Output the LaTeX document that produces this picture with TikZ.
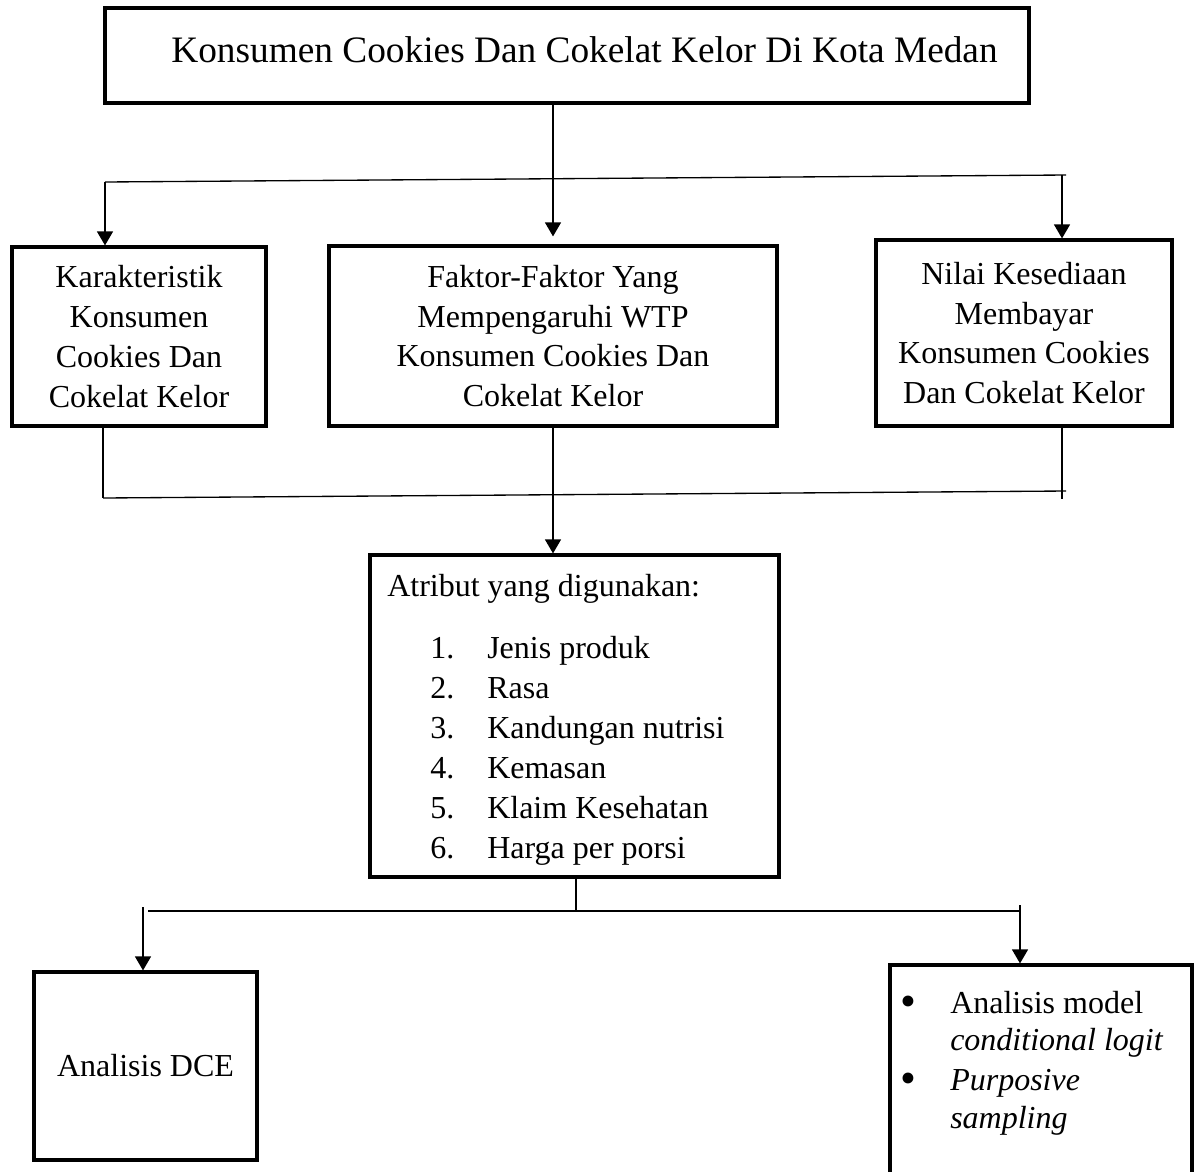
\documentclass[tikz,border=0pt]{standalone}
\usepackage{fontspec}
\setmainfont{Liberation Serif}
\usetikzlibrary{arrows.meta}
\tikzset{
  bx/.style={draw, line width=2.4pt, inner sep=0pt, align=center,
             font=\fontsize{24pt}{29.8pt}\selectfont},
  ln/.style={line width=1pt},
  arr/.style={line width=1pt, -{Triangle[length=10.5pt,width=12pt]}},
  txt/.style={inner sep=0pt, anchor=base west, font=\fontsize{24pt}{29.8pt}\selectfont},
  blt/.style={inner sep=0pt, anchor=base, font=\fontsize{34pt}{34pt}\selectfont},
}
\begin{document}
\begin{tikzpicture}[x=0.75pt,y=-0.75pt]
\useasboundingbox (0,0) rectangle (1194,1171);
\clip (0,0) rectangle (1194,1171);
% boxes
\node[bx, minimum width={924*0.75pt}, minimum height={95*0.75pt}] (top) at (567,55.5) {};
\node[inner sep=0pt, font=\fontsize{28pt}{34pt}\selectfont] (title) at (584.5,50)
      {Konsumen Cookies Dan Cokelat Kelor Di Kota Medan};
\node[bx, minimum width={254*0.75pt}, minimum height={179*0.75pt}] (left) at (139,336.5)
      {Karakteristik\\Konsumen\\Cookies Dan\\Cokelat Kelor};
\node[bx, minimum width={448*0.75pt}, minimum height={180*0.75pt}] (mid) at (553,336)
      {Faktor-Faktor Yang\\Mempengaruhi WTP\\Konsumen Cookies Dan\\Cokelat Kelor};
\node[bx, minimum width={296*0.75pt}, minimum height={186*0.75pt}] (right) at (1024,333)
      {Nilai Kesediaan\\Membayar\\Konsumen Cookies\\Dan Cokelat Kelor};
\node[bx, minimum width={409*0.75pt}, minimum height={322*0.75pt}] (attr) at (574.5,716) {};
\node[bx, minimum width={223*0.75pt}, minimum height={188*0.75pt}] (dce) at (145.5,1066)
      {Analisis DCE};
\node[bx, minimum width={302*0.75pt}, minimum height={240*0.75pt}] (clogit) at (1041,1085) {};
% attribute text
\node[txt] (ah) at (387,596) {Atribut yang digunakan:};
\foreach \i/\t [count=\k from 0] in {1/Jenis produk,2/Rasa,3/Kandungan nutrisi,4/Kemasan,5/Klaim Kesehatan,6/Harga per porsi}{
  \node[txt] (n\i) at (430,658+40*\k) {\i.};
  \node[txt] (a\i) at (487,658+40*\k) {\t};
}
% bullet text
\node[txt] (c1) at (950,1013) {Analisis model};
\node[txt] (c2) at (950,1050) {\itshape conditional logit};
\node[txt] (c3) at (950,1090) {\itshape Purposive};
\node[txt] (c4) at (950,1128) {\itshape sampling};
\node[blt] (u1) at (908,1016) {•};
\node[blt] (u2) at (908,1093) {•};
% upper bus
\coordinate (b1L) at (105,182);
\coordinate (b1R) at (1066,175);
\coordinate (b1r) at (1062,175);
\draw[ln] (b1L) -- (b1R);
\draw[arr] (top.south -| mid.north) -- ([yshift=6pt]mid.north);
\draw[arr] (b1L) -- (b1L |- left.north);
\draw[arr] (b1r) -- (b1r |- right.north);
% lower bus
\coordinate (b2L) at (103,498);
\coordinate (b2R) at (1066,491);
\coordinate (b2r) at (1062,499);
\draw[ln] (b2L) -- (b2R);
\draw[ln] (b2L |- left.south) -- (b2L);
\draw[ln] (b2r |- right.south) -- (b2r);
\draw[arr] (mid.south) -- (mid.south |- attr.north);
% bottom bus
\coordinate (b3M) at (576,911);
\coordinate (b3L) at (148,911);
\coordinate (b3R) at (1020,911);
\coordinate (d1) at (143,907);
\coordinate (d2) at (1020,905);
\draw[ln] (b3M |- attr.south) -- (b3M);
\draw[ln] (b3L) -- (b3R);
\draw[arr] (d1) -- (d1 |- dce.north);
\draw[arr] (d2) -- (d2 |- clogit.north);
\end{tikzpicture}
\end{document}
